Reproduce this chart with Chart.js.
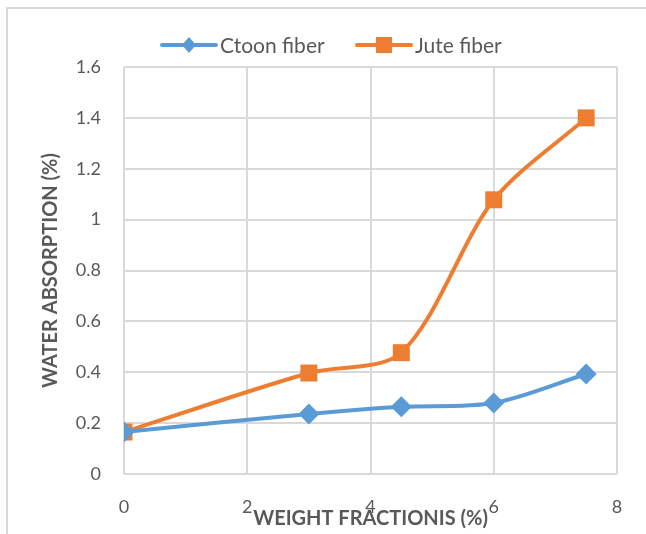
<!DOCTYPE html>
<html>
<head>
<meta charset="utf-8">
<script src="https://cdn.jsdelivr.net/npm/chart.js@4.4.1/dist/chart.umd.min.js"></script>
<style>
  html, body { margin: 0; padding: 0; background: #fff; }
  #wrap { width: 646px; height: 534px; position: relative; }
</style>
</head>
<body>
<div id="wrap"><canvas id="c" width="646" height="534"></canvas></div>
<script>
const xValues = [0, 3, 4.5, 6, 7.5];
const cottonValues = [0.165, 0.236, 0.264, 0.279, 0.393];
const juteValues = [0.165, 0.397, 0.477, 1.078, 1.40];
const seriesNames = ['Ctoon fiber', 'Jute fiber'];
const xTitle = 'WEIGHT FRACTIONIS (%)';
const yTitle = 'WATER ABSORPTION (%)';

const BLUE = '#5B9BD5';
const ORANGE = '#ED7D31';
const TEXT = '#595959';
const GRID = '#D9D9D9';
const FONT = 'Lato, "Open Sans", sans-serif';

const toPts = (ys) => xValues.map((x, i) => ({ x: x, y: ys[i] }));

const frame = {
  id: 'frame',
  beforeDraw(chart) {
    const ctx = chart.ctx;
    ctx.save();
    ctx.strokeStyle = GRID;
    ctx.lineWidth = 2;
    ctx.beginPath();
    ctx.moveTo(7, 540);
    ctx.lineTo(7, 8);
    ctx.lineTo(650, 8);
    ctx.stroke();
    ctx.restore();
  }
};

const customLegend = {
  id: 'customLegend',
  afterDraw(chart) {
    const ctx = chart.ctx;
    ctx.save();
    ctx.font = '21px ' + FONT;
    ctx.textBaseline = 'middle';
    const y = 45;
    const items = [
      { x: 162, name: seriesNames[0], color: BLUE, style: 'rectRot' },
      { x: 357, name: seriesNames[1], color: ORANGE, style: 'rect' }
    ];
    items.forEach(it => {
      ctx.strokeStyle = it.color;
      ctx.lineWidth = 4;
      ctx.lineCap = 'round';
      ctx.beginPath();
      ctx.moveTo(it.x, y);
      ctx.lineTo(it.x + 54, y);
      ctx.stroke();
      ctx.fillStyle = it.color;
      const cx = it.x + 27;
      if (it.style === 'rect') {
        ctx.fillRect(cx - 8, y - 8, 16, 16);
      } else {
        ctx.beginPath();
        ctx.moveTo(cx, y - 8);
        ctx.lineTo(cx + 7, y);
        ctx.lineTo(cx, y + 8);
        ctx.lineTo(cx - 7, y);
        ctx.closePath();
        ctx.fill();
      }
      ctx.fillStyle = TEXT;
      ctx.textAlign = 'left';
      ctx.fillText(it.name, it.x + 58, y + 1);
    });
    ctx.restore();
  }
};

new Chart(document.getElementById('c'), {
  type: 'line',
  data: {
    datasets: [
      {
        label: seriesNames[0],
        data: toPts(cottonValues),
        borderColor: BLUE,
        backgroundColor: BLUE,
        borderWidth: 4,
        pointStyle: 'rectRot',
        pointRadius: 10.5,
        pointHoverRadius: 10.5,
        pointBorderWidth: 0,
        tension: 0.3
      },
      {
        label: seriesNames[1],
        data: toPts(juteValues),
        borderColor: ORANGE,
        backgroundColor: ORANGE,
        borderWidth: 4,
        pointStyle: 'rect',
        pointRadius: 12,
        pointHoverRadius: 12,
        pointBorderWidth: 0,
        tension: 0.3
      }
    ]
  },
  options: {
    responsive: false,
    animation: false,
    devicePixelRatio: 1,
    layout: { padding: { left: 39, right: 29, top: 67, bottom: 2 } },
    plugins: {
      legend: { display: false },
      tooltip: { enabled: false }
    },
    scales: {
      x: {
        type: 'linear',
        min: 0,
        max: 8,
        ticks: { stepSize: 2, color: TEXT, font: { family: FONT, size: 18 }, padding: 22 },
        grid: { color: GRID, lineWidth: 2, drawTicks: false },
        border: { display: false },
        title: {
          display: true,
          text: xTitle,
          color: TEXT,
          font: { family: FONT, size: 20, weight: 'bold' },
          padding: { top: -8, bottom: 1 }
        },
        afterFit(scale) { scale.height = 58; }
      },
      y: {
        min: 0,
        max: 1.6,
        ticks: { stepSize: 0.2, color: TEXT, font: { family: FONT, size: 18 }, padding: 23,
          callback: (v) => Math.round(v * 10) / 10 },
        grid: { color: GRID, lineWidth: 2, drawTicks: false },
        border: { display: false },
        title: {
          display: true,
          text: yTitle,
          color: TEXT,
          font: { family: FONT, size: 20, weight: 'bold' },
          padding: { top: 0, bottom: 0 }
        },
        afterFit(scale) { scale.width = 85; }
      }
    }
  },
  plugins: [frame, customLegend]
});
</script>
</body>
</html>
